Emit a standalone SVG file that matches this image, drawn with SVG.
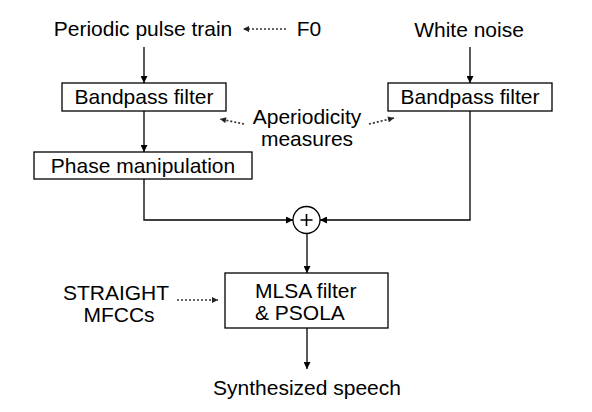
<svg xmlns="http://www.w3.org/2000/svg" width="592" height="412" viewBox="0 0 592 412">
<style>
text{font-family:"Liberation Sans",Arial,sans-serif;font-size:21px;fill:#000}
.box{fill:#fff;stroke:#000;stroke-width:1.3}
.ln{fill:none;stroke:#000;stroke-width:1.3}
.dot{fill:none;stroke:#333;stroke-width:1.7;stroke-dasharray:2,2}
</style>
<defs>
<marker id="ah" viewBox="0 0 10 10" refX="10" refY="5" markerWidth="8" markerHeight="7" markerUnits="userSpaceOnUse" orient="auto"><path d="M0,0 L10,5 L0,10 z" fill="#000"/></marker>
<marker id="dh" viewBox="0 0 10 10" refX="10" refY="5" markerWidth="8" markerHeight="6" markerUnits="userSpaceOnUse" orient="auto"><path d="M0,0 L10,5 L0,10 z" fill="#222"/></marker>
</defs>
<rect width="592" height="412" fill="#fff"/>
<g id="connectors">
<line class="ln" x1="144" y1="47" x2="144" y2="83" marker-end="url(#ah)"/>
<line class="ln" x1="470" y1="47" x2="470" y2="83" marker-end="url(#ah)"/>
<line class="ln" x1="144" y1="111" x2="144" y2="152" marker-end="url(#ah)"/>
<polyline class="ln" points="144,179 144,220 293,220" marker-end="url(#ah)"/>
<polyline class="ln" points="470,111 470,220 320,220" marker-end="url(#ah)"/>
<line class="ln" x1="307" y1="233.5" x2="307" y2="273" marker-end="url(#ah)"/>
<line class="ln" x1="307" y1="328" x2="307" y2="369" marker-end="url(#ah)"/>
<line class="dot" x1="286" y1="29" x2="243" y2="29" marker-end="url(#dh)"/>
<line class="dot" x1="244" y1="124" x2="220" y2="119" marker-end="url(#dh)"/>
<line class="dot" x1="369" y1="124" x2="394" y2="118" marker-end="url(#dh)"/>
<line class="dot" x1="177" y1="300" x2="218" y2="300" marker-end="url(#dh)"/>
</g>
<g id="pulse"><text x="143" y="36" text-anchor="middle">Periodic pulse train</text></g>
<g id="f0"><text x="309" y="36" text-anchor="middle">F0</text></g>
<g id="noise"><text x="469" y="37" text-anchor="middle">White noise</text></g>
<g id="bp1"><rect class="box" x="62" y="83" width="164" height="28"/><text x="144" y="104" text-anchor="middle">Bandpass filter</text></g>
<g id="bp2"><rect class="box" x="388" y="83" width="164" height="28"/><text x="470" y="104" text-anchor="middle">Bandpass filter</text></g>
<g id="aper"><text x="307" y="124" text-anchor="middle">Aperiodicity</text><text x="307" y="146" text-anchor="middle">measures</text></g>
<g id="phase"><rect class="box" x="34" y="152" width="218" height="27"/><text x="143" y="173" text-anchor="middle">Phase manipulation</text></g>
<g id="sum"><circle cx="306.5" cy="220" r="13.5" fill="#fff" stroke="#000" stroke-width="1.3"/><path d="M300.5,220 H312.5 M306.5,214 V226" stroke="#000" stroke-width="1.6"/></g>
<g id="mlsa"><rect class="box" x="225" y="273" width="163" height="55"/><text x="255" y="298">MLSA filter</text><text x="255" y="320">&amp; PSOLA</text></g>
<g id="straight"><text x="116" y="300" text-anchor="middle">STRAIGHT</text><text x="119" y="322" text-anchor="middle">MFCCs</text></g>
<g id="out"><text x="307" y="395" text-anchor="middle">Synthesized speech</text></g>
</svg>
